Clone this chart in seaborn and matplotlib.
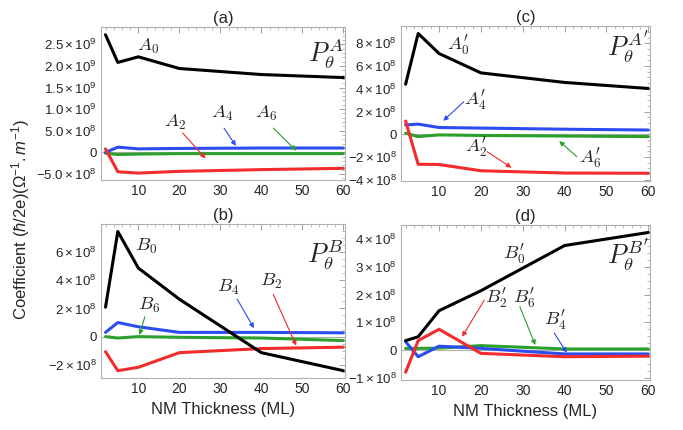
import numpy as np
import pandas as pd
import matplotlib
matplotlib.use("Agg")
import matplotlib.pyplot as plt
from matplotlib.ticker import FixedLocator, MultipleLocator, FixedFormatter
import seaborn as sns

sns.set_style("white")
plt.rcParams['font.family'] = ['Liberation Sans', 'DejaVu Sans']
plt.rcParams['mathtext.fontset'] = 'custom'
plt.rcParams['mathtext.rm'] = 'Liberation Sans'
plt.rcParams['mathtext.it'] = 'Liberation Sans:italic'

# NM thickness (ML)
thickness = [2, 5, 10, 20, 40, 60]

# (a) P_theta^A coefficients
A0 = [2.72e9, 2.08e9, 2.21e9, 1.94e9, 1.80e9, 1.73e9]
A2 = [0.08e9, -0.45e9, -0.48e9, -0.44e9, -0.40e9, -0.37e9]
A4 = [0.00e9, 0.12e9, 0.08e9, 0.09e9, 0.10e9, 0.10e9]
A6 = [-0.02e9, -0.05e9, -0.04e9, -0.03e9, -0.03e9, -0.03e9]

# (c) P_theta^A' coefficients
A0p = [4.4e8, 8.86e8, 7.1e8, 5.4e8, 4.56e8, 4.03e8]
A2p = [1.17e8, -2.63e8, -2.65e8, -3.2e8, -3.4e8, -3.42e8]
A4p = [0.82e8, 0.9e8, 0.6e8, 0.55e8, 0.45e8, 0.38e8]
A6p = [0.1e8, -0.2e8, -0.05e8, -0.1e8, -0.15e8, -0.2e8]

# (b) P_theta^B coefficients
B0 = [2.09e8, 7.47e8, 4.87e8, 2.66e8, -1.14e8, -2.42e8]
B2 = [-1.07e8, -2.42e8, -2.18e8, -1.14e8, -0.85e8, -0.75e8]
B4 = [0.3e8, 1.0e8, 0.7e8, 0.3e8, 0.3e8, 0.27e8]
B6 = [0.0, -0.1e8, 0.0, -0.05e8, -0.1e8, -0.28e8]

# (d) P_theta^B' coefficients
B0p = [0.34e8, 0.48e8, 1.42e8, 2.14e8, 3.77e8, 4.24e8]
B2p = [-0.8e8, 0.34e8, 0.75e8, -0.12e8, -0.24e8, -0.22e8]
B4p = [0.3e8, -0.24e8, 0.14e8, 0.06e8, -0.14e8, -0.14e8]
B6p = [0.06e8, 0.06e8, 0.07e8, 0.16e8, 0.04e8, 0.04e8]

colors = {"0": "#000000", "2": "#f22b2b", "4": "#2b4cf0", "6": "#2ca02c"}

# y ticks and their labels per panel
ticks_a = [-0.5e9, 0, 0.5e9, 1.0e9, 1.5e9, 2.0e9, 2.5e9]
labels_a = [r"$-5.0\times10^{8}$", "0", r"$5.0\times10^{8}$", r"$1.0\times10^{9}$",
            r"$1.5\times10^{9}$", r"$2.0\times10^{9}$", r"$2.5\times10^{9}$"]
ticks_c = [-4e8, -2e8, 0, 2e8, 4e8, 6e8, 8e8]
labels_c = [r"$-4\times10^{8}$", r"$-2\times10^{8}$", "0", r"$2\times10^{8}$",
            r"$4\times10^{8}$", r"$6\times10^{8}$", r"$8\times10^{8}$"]
ticks_b = [-2e8, 0, 2e8, 4e8, 6e8]
labels_b = [r"$-2\times10^{8}$", "0", r"$2\times10^{8}$", r"$4\times10^{8}$", r"$6\times10^{8}$"]
ticks_d = [-1e8, 0, 1e8, 2e8, 3e8, 4e8]
labels_d = [r"$-1\times10^{8}$", "0", r"$1\times10^{8}$", r"$2\times10^{8}$",
            r"$3\times10^{8}$", r"$4\times10^{8}$"]

fig = plt.figure(figsize=(6.83, 4.30), dpi=100)
W, H = 683.0, 430.0


def box(left, right, top, bottom):
    return [left / W, 1 - bottom / H, (right - left) / W, (bottom - top) / H]


def panel(rect, series, ylim, yticks, ylabels, yminor, title, xlabel):
    ax = fig.add_axes(rect)
    rows = []
    for key, vals in series.items():
        for t, v in zip(thickness, vals):
            rows.append({"x": t, "y": v, "s": key})
    df = pd.DataFrame(rows)
    ax.axhline(0, color="#b0b0b0", lw=0.8, zorder=0)
    sns.lineplot(data=df, x="x", y="y", hue="s", palette=colors,
                 hue_order=["6", "4", "2", "0"], legend=False,
                 linewidth=2.2, ax=ax)
    ax.set_xlim(0.9, 60.4)
    ax.set_ylim(*ylim)
    ax.xaxis.set_major_locator(FixedLocator([10, 20, 30, 40, 50, 60]))
    ax.xaxis.set_minor_locator(MultipleLocator(2))
    ax.yaxis.set_major_locator(FixedLocator(yticks))
    ax.yaxis.set_major_formatter(FixedFormatter(ylabels))
    ax.yaxis.set_minor_locator(MultipleLocator(yminor))
    ax.tick_params(which="both", direction="in", top=True, right=True,
                   color="#a0a0a0", labelsize=9.6, pad=3)
    ax.tick_params(which="major", length=4, width=0.7)
    ax.tick_params(which="minor", length=2, width=0.5)
    ax.tick_params(axis="x", labelsize=10)
    for s in ax.spines.values():
        s.set_color("#b0b0b0")
        s.set_linewidth(0.8)
    ax.set_ylabel("")
    if xlabel:
        ax.set_xlabel("NM Thickness (ML)", fontsize=12, labelpad=4)
    else:
        ax.set_xlabel("")
    ax.set_title(title, fontsize=12, pad=3)
    return ax


def lab(ax, x, y, s, size=13.5, ha="center"):
    ax.text(x, y, s, fontsize=size, ha=ha, va="center", math_fontfamily="cm")


def arrow(ax, x0, y0, x1, y1, c):
    ax.annotate("", xy=(x1, y1), xytext=(x0, y0),
                arrowprops=dict(arrowstyle="-|>", color=c, lw=0.8,
                                mutation_scale=7, shrinkA=0, shrinkB=0))


# (a)
ax = panel(box(101, 345, 27, 180), {"0": A0, "2": A2, "4": A4, "6": A6},
           (-0.64e9, 2.9e9), ticks_a, labels_a, 0.1e9, "(a)", False)
lab(ax, 12.4, 2.44e9, r"$A_0$")
lab(ax, 30.4, 0.91e9, r"$A_4$")
lab(ax, 41.1, 0.89e9, r"$A_6$")
lab(ax, 18.9, 0.70e9, r"$A_2$")
lab(ax, 60.0, 2.3e9, r"$P_\theta^{A}$", size=19, ha="right")
arrow(ax, 30.9, 0.56e9, 33.8, 0.15e9, colors["4"])
arrow(ax, 42.9, 0.56e9, 48.5, 0.04e9, colors["6"])
arrow(ax, 20.8, 0.45e9, 26.4, -0.14e9, colors["2"])

# (c)
ax = panel(box(401, 650, 26, 181), {"0": A0p, "2": A2p, "4": A4p, "6": A6p},
           (-4.1e8, 9.52e8), ticks_c, labels_c, 0.5e8, "(c)", False)
lab(ax, 14.5, 7.9e8, r"$A_0'$")
lab(ax, 18.7, 3.0e8, r"$A_4'$")
lab(ax, 18.9, -1.1e8, r"$A_2'$")
lab(ax, 46.0, -2.08e8, r"$A_6'$")
lab(ax, 60.0, 7.6e8, r"$P_\theta^{A'}$", size=19, ha="right")
arrow(ax, 15.9, 2.86e8, 11.0, 1.19e8, colors["4"])
arrow(ax, 21.5, -1.53e8, 27.3, -2.93e8, colors["2"])
arrow(ax, 42.9, -1.96e8, 38.7, -0.59e8, colors["6"])

# (b)
ax = panel(box(101, 345, 224, 378), {"0": B0, "2": B2, "4": B4, "6": B6},
           (-2.94e8, 8.0e8), ticks_b, labels_b, 0.5e8, "(b)", True)
lab(ax, 11.9, 6.4e8, r"$B_0$")
lab(ax, 12.6, 2.2e8, r"$B_6$")
lab(ax, 31.8, 3.47e8, r"$B_4$")
lab(ax, 42.3, 3.9e8, r"$B_2$")
lab(ax, 60.0, 5.8e8, r"$P_\theta^{B}$", size=19, ha="right")
arrow(ax, 11.6, 1.42e8, 10.3, 0.12e8, colors["6"])
arrow(ax, 34.1, 2.66e8, 38.2, 0.6e8, colors["4"])
arrow(ax, 42.9, 3.0e8, 48.5, -0.64e8, colors["2"])

# (d)
ax = panel(box(401, 650, 225, 380), {"0": B0p, "2": B2p, "4": B4p, "6": B6p},
           (-1.08e8, 4.51e8), ticks_d, labels_d, 0.25e8, "(d)", True)
lab(ax, 28.0, 3.47e8, r"$B_0'$")
lab(ax, 23.7, 1.88e8, r"$B_2'$")
lab(ax, 30.2, 1.88e8, r"$B_6'$")
lab(ax, 37.7, 1.08e8, r"$B_4'$")
lab(ax, 60.0, 3.4e8, r"$P_\theta^{B'}$", size=19, ha="right")
arrow(ax, 20.8, 1.8e8, 15.5, 0.48e8, colors["2"])
arrow(ax, 29.3, 1.56e8, 33.0, 0.18e8, colors["6"])
arrow(ax, 37.5, 0.62e8, 40.5, -0.1e8, colors["4"])

fig.text(0.030, 0.49, r"Coefficient $(\hbar/2\mathrm{e})(\Omega^{-1}.m^{-1})$",
         rotation=90, ha="center", va="center", fontsize=12)

fig.savefig("out.png", dpi=100)
